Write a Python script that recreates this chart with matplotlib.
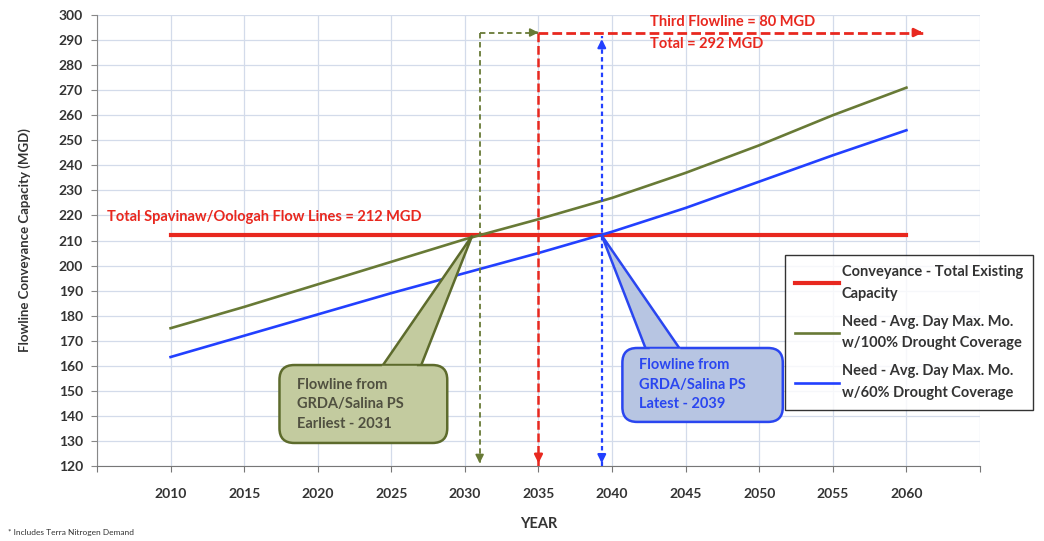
import matplotlib
matplotlib.use('Agg')
import matplotlib.pyplot as plt
from matplotlib.patches import FancyBboxPatch, Polygon

plt.rcParams['font.family'] = ['Lato', 'DejaVu Sans']
plt.rcParams['font.weight'] = 'bold'

# data
years = [2010, 2015, 2020, 2025, 2030, 2035, 2040, 2045, 2050, 2055, 2060]
existing_capacity = [212] * len(years)
need_100 = [175, 183.5, 192.5, 201.5, 210.5, 218.5, 227, 237, 248, 260, 271]
need_60 = [163.5, 172, 180.5, 189, 197, 205, 213.5, 223, 233.5, 244, 254]

earliest_year = 2031
third_line_year = 2035
latest_year = 2039.3
total_capacity = 293
third_line_end = 2061.3

red = '#e8281f'
olive = '#687a36'
blue = '#2240ff'

fig = plt.figure(figsize=(10.44, 5.41), dpi=100)
ax = fig.add_axes([0.0929, 0.1386, 0.8458, 0.8337])

ax.plot(years, existing_capacity, color=red, lw=3, label='Conveyance - Total Existing\nCapacity', zorder=4)
ax.plot(years, need_100, color=olive, lw=1.9, label='Need - Avg. Day Max. Mo.\nw/100% Drought Coverage', zorder=4)
ax.plot(years, need_60, color=blue, lw=1.9, label='Need - Avg. Day Max. Mo.\nw/60% Drought Coverage', zorder=4)

ax.set_xlim(2005, 2065)
ax.set_ylim(120, 300)

# dashed guide arrows
def dashed_arrow(x0, y0, x1, y1, color, lw, dashes, head_start=False):
    ax.plot([x0, x1], [y0, y1], color=color, lw=lw, dashes=dashes, zorder=5)
    ax.annotate('', xy=(x1, y1), xytext=(x0 + (x1 - x0) * 0.97, y0 + (y1 - y0) * 0.97),
                arrowprops=dict(arrowstyle='-|>', color=color, lw=lw, mutation_scale=12), zorder=6)
    if head_start:
        ax.annotate('', xy=(x0, y0), xytext=(x0 + (x1 - x0) * 0.03, y0 + (y1 - y0) * 0.03),
                    arrowprops=dict(arrowstyle='-|>', color=color, lw=lw, mutation_scale=12), zorder=6)

dashed_arrow(earliest_year, total_capacity, earliest_year, 120, olive, 1.3, (3, 2))
dashed_arrow(earliest_year, total_capacity, third_line_year, total_capacity, olive, 1.3, (3, 2))
dashed_arrow(third_line_year, total_capacity, third_line_year, 120, red, 1.8, (3.5, 1.5))
dashed_arrow(third_line_year, total_capacity, third_line_end, total_capacity, red, 2.0, (3.5, 1.5))
dashed_arrow(latest_year, 120, latest_year, total_capacity - 1.5, blue, 1.6, (2, 1.5), head_start=True)

# labels on the chart
ax.text(2005.7, 219.4, 'Total Spavinaw/Oologah Flow Lines = 212 MGD', color=red,
        fontsize=10.5, fontweight='bold', va='center', ha='left', zorder=6)
ax.text(2042.6, 297.4, 'Third Flowline = 80 MGD', color=red, fontsize=10.5,
        fontweight='bold', va='center', ha='left', zorder=6)
ax.text(2042.6, 288.6, 'Total = 292 MGD', color=red, fontsize=10.5,
        fontweight='bold', va='center', ha='left', zorder=6)

# callouts
def callout(x0, x1, y0, y1, base_l, base_r, tip, face, edge, text, tcolor, tx):
    wedge = Polygon([(base_l, y1 - 2), tip, (base_r, y1 - 2)], closed=True,
                    facecolor=face, edgecolor=edge, lw=1.8, zorder=7)
    ax.add_patch(wedge)
    box = FancyBboxPatch((x0, y0), x1 - x0, y1 - y0,
                         boxstyle='round,pad=0,rounding_size=1.0',
                         mutation_aspect=14.7 / 2.506,
                         facecolor=face, edgecolor=edge, lw=1.8, zorder=8)
    ax.add_patch(box)
    ax.add_patch(Polygon([(base_l + 0.15, y1 - 0.3), (base_l + 0.3, y1 - 3), (base_r - 0.3, y1 - 3),
                          (base_r - 0.15, y1 - 0.3)], closed=True, facecolor=face,
                         edgecolor='none', zorder=9))
    ax.text(tx, (y0 + y1) / 2, text, color=tcolor, fontsize=10.5, fontweight='bold',
            va='center', ha='left', linespacing=1.5, zorder=10)

callout(2017.4, 2028.8, 129.2, 160.3, 2024.2, 2026.9, (2030.5, 212),
        '#c3cb9f', '#5d6b2c', 'Flowline from\nGRDA/Salina PS\nEarliest - 2031', '#505040', 2018.6)
callout(2040.7, 2051.6, 137.6, 167.1, 2042.4, 2044.8, (latest_year, 212),
        '#b7c5e2', '#2a46f0', 'Flowline from\nGRDA/Salina PS\nLatest - 2039', '#2a46f0', 2041.8)

# axes styling
ax.set_yticks(range(120, 301, 10))
xt = list(range(2005, 2066, 5))
ax.set_xticks(xt)
ax.set_xticklabels([str(y) if 2010 <= y <= 2060 else '' for y in xt])
ax.grid(True, color='#d3dbea', lw=0.9)
ax.set_axisbelow(True)
for s in ['top', 'right']:
    ax.spines[s].set_visible(False)
ax.spines['left'].set_color('#888888')
ax.spines['bottom'].set_color('#777777')
ax.tick_params(axis='y', length=4, color='#888888', labelsize=10, labelcolor='#333333', pad=6)
ax.tick_params(axis='x', length=4, color='#777777', labelsize=10, labelcolor='#333333', pad=12)
for lab in ax.get_xticklabels() + ax.get_yticklabels():
    lab.set_fontweight('bold')

ax.set_ylabel('Flowline Conveyance Capacity (MGD)', fontsize=9.5, fontweight='bold', color='#333333')
ax.yaxis.set_label_coords(-0.075, 0.5)
ax.set_xlabel('YEAR', fontsize=10.5, fontweight='bold', color='#333333')
ax.xaxis.set_label_coords(0.5, -0.113)

leg = ax.legend(loc='upper left', bbox_to_anchor=(785 / 1044, (541 - 255) / 541),
                bbox_transform=fig.transFigure, fontsize=10.5, frameon=True, fancybox=False,
                edgecolor='black', handlelength=3.0, handletextpad=0.2, labelspacing=0.95,
                borderpad=0.7, borderaxespad=0)
leg.get_frame().set_linewidth(1.0)
leg.set_zorder(11)
for t in leg.get_texts():
    t.set_fontweight('bold')
    t.set_color('#333333')
    t.set_linespacing(1.7)

fig.text(8 / 1044, 1 - 533 / 541, '* Includes Terra Nitrogen Demand', fontsize=6, color='#333333',
         va='center', ha='left', fontweight='normal')

fig.savefig('out.png', dpi=100)
